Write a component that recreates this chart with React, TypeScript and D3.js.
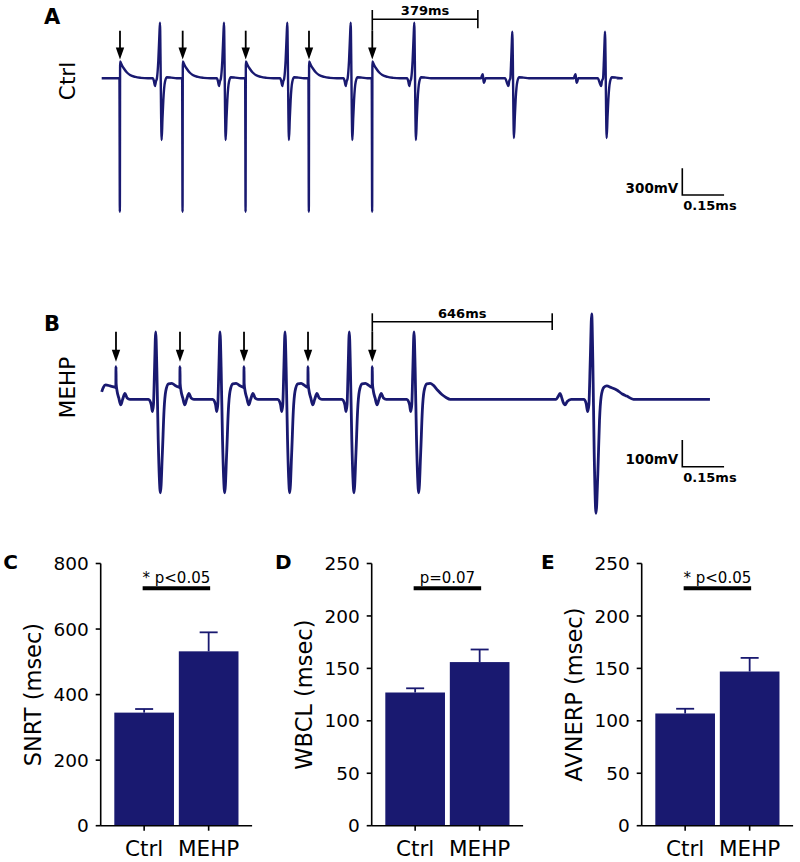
import React from 'react';
import * as d3 from 'd3';

const W = 800;
const H = 862;
const NAVY = '#191970';
const FONT = '"DejaVu Sans", sans-serif';

// ---------- Panel A / B: ECG traces (time in ms, voltage in mV) ----------
// event times
const ctrlStimTimes = [65.7, 290.8, 517.1, 744.3, 971.6];
const ctrlBeatTimes = [209.3, 439.1, 666.4, 894.1, 1122.4];
const ctrlLateBeatTimes = [1474.3, 1807.2];
const ctrlPWaveTimes = [1370.2, 1703.4];
const ctrlStart = [[0, 0]];
const ctrlEndTime = 1849;

const mehpStimTimes = [51.3, 281.1, 511.0, 740.8, 971.6];
const mehpBeatTimes = [193.9, 424.8, 658.2, 889.0, 1121.4];
const mehpLateBeatTimes = [1759.4];
const mehpPWaveTimes = [1645.6];
const mehpStart = [[0, 28], [6, 45], [14, 54], [30, 50]];
const mehpEndTime = 2184;

// waveform shapes: [ms offset, mV]
const ctrlStimShape = [[-2, 0], [-0.5, -1500], [0.5, 190], [3, 175], [8, 140], [14, 110], [25, 65], [36, 37], [55, 15], [75, 5], [100, 0]];
const ctrlBeatShape = [[-26, 0], [-21, -40], [-18, -87], [-15, -40], [-11, 0], [-6, 200], [-2, 500], [0, 625], [2, 200], [4, -400], [6, -693], [9, -450], [12, -245], [18, -38], [25, 12], [40, 8], [60, 0]];
const ctrlLateBeatShape = [[-26, 0], [-18, -60], [-14, -87], [-11, -30], [-7, 0], [-4, 200], [-1.5, 420], [0, 524], [2, 200], [4, -380], [6, -670], [9, -440], [12, -240], [18, -38], [25, 12], [40, 8], [60, 0]];
const ctrlPWaveShape = [[-8, 0], [-5, 30], [-2, 45], [0, -10], [2, -50], [5, -30], [8, 0]];

const mehpStimShape = [[-3, 45], [-0.6, 44], [0, 122], [0.6, 60], [4, 30], [10, 5], [17, -21], [24, 0], [32, 22], [40, 5], [50, 0]];
const mehpBeatShape = [[-26, 0], [-16, -20], [-12, -46], [-8, -20], [-4, 120], [0, 252], [4, 120], [9, -150], [17, -350], [24, -200], [30, -40], [36, 30], [46, 58], [58, 60], [70, 52], [85, 34], [100, 18], [115, 7], [130, 0]];
const mehpLateBeatShape = [[-28, 0], [-20, -15], [-14.5, -46], [-10, -20], [-5, 150], [0, 320], [4, 150], [9, -200], [15.5, -427], [22, -280], [28, -80], [34, 10], [44, 45], [54, 50], [70, 44], [90, 35], [110, 20], [126, 12], [150, 0]];
const mehpPWaveShape = [[-14, 0], [-7, 10], [0, 22], [5, 10], [11, -10], [18, -21], [26, -8], [40, 0]];

const ctrlPauseMs = 379;
const mehpPauseMs = 646;
const scaleBarMs = 150;
const ctrlScaleMv = 300;
const mehpScaleMv = 100;

// ---------- Panels C, D, E: bar charts ----------
const groups = ['Ctrl', 'MEHP'];
const snrtMean = [345, 532];
const snrtErr = [11, 58];
const wbclMean = [127, 156];
const wbclErr = [4, 12];
const avnerpMean = [107, 147];
const avnerpErr = [4.5, 13];
const ticks800 = [0, 200, 400, 600, 800];
const ticks250 = [0, 50, 100, 150, 200, 250];

type Ev = { t: number; shape: number[][] };

function buildTrace(start: number[][], events: Ev[], endT: number): [number, number][] {
  const evs = events.slice().sort((a, b) => a.t - b.t);
  const pts: [number, number][] = start.map((p) => [p[0], p[1]] as [number, number]);
  evs.forEach((e, i) => {
    const nextStart = i < evs.length - 1 ? evs[i + 1].t + evs[i + 1].shape[0][0] : Infinity;
    e.shape.forEach(([dt, v]) => {
      const t = e.t + dt;
      const last = pts.length ? pts[pts.length - 1][0] : -Infinity;
      if (t < nextStart && t > last) pts.push([t, v]);
    });
  });
  pts.push([endT, 0]);
  return pts;
}

const xT = d3.scaleLinear().domain([0, 2200]).range([101.7, 101.7 + 2200 * 0.2785]);
const yA = d3.scaleLinear().domain([0, 300]).range([78.3, 78.3 - 26.7]);
const yB = d3.scaleLinear().domain([0, 100]).range([399.3, 399.3 - 26.7]);

const ctrlTrace = buildTrace(
  ctrlStart,
  [
    ...ctrlStimTimes.map((t) => ({ t, shape: ctrlStimShape })),
    ...ctrlBeatTimes.map((t) => ({ t, shape: ctrlBeatShape })),
    ...ctrlLateBeatTimes.map((t) => ({ t, shape: ctrlLateBeatShape })),
    ...ctrlPWaveTimes.map((t) => ({ t, shape: ctrlPWaveShape })),
  ],
  ctrlEndTime
);
const mehpTrace = buildTrace(
  mehpStart,
  [
    ...mehpStimTimes.map((t) => ({ t, shape: mehpStimShape })),
    ...mehpBeatTimes.map((t) => ({ t, shape: mehpBeatShape })),
    ...mehpLateBeatTimes.map((t) => ({ t, shape: mehpLateBeatShape })),
    ...mehpPWaveTimes.map((t) => ({ t, shape: mehpPWaveShape })),
  ],
  mehpEndTime
);

function Arrow({ x, y1, y2 }: { x: number; y1: number; y2: number }) {
  return (
    <g>
      <line x1={x} x2={x} y1={y1} y2={y2 - 10} stroke="#000" strokeWidth={1.8} />
      <path d={`M${x - 4.2},${y2 - 12} L${x + 4.2},${y2 - 12} L${x},${y2} Z`} fill="#000" />
    </g>
  );
}

function TracePanel(props: {
  letter: string; letterY: number; name: string; nameY: number;
  data: [number, number][]; y: d3.ScaleLinear<number, number>; strokeW: number;
  stims: number[]; arrowTop: number; arrowTip: number;
  pause: number; brTop: number; brMid: number; brBot: number; brTextY: number;
  scaleMv: number; sbBottom: number; sbTextY: number; sbMsY: number;
}) {
  const p = props;
  const line = d3.line<[number, number]>().x((d) => xT(d[0])).y((d) => p.y(d[1])).curve(d3.curveMonotoneX);
  const lastStim = p.stims[p.stims.length - 1];
  const bx1 = xT(lastStim);
  const bx2 = xT(lastStim + p.pause);
  const sbX = 682.3;
  const sbH = p.y(0) - p.y(p.scaleMv);
  const sbW = xT(scaleBarMs) - xT(0);
  return (
    <g>
      <text x={44} y={p.letterY} fontFamily={FONT} fontWeight="bold" fontSize={21}>{p.letter}</text>
      <text transform={`translate(67,${p.nameY}) rotate(-90)`} textAnchor="middle" dy="0.35em" fontFamily={FONT} fontSize={21.5}>{p.name}</text>
      <path d={line(p.data) || ''} fill="none" stroke={NAVY} strokeWidth={p.strokeW} strokeLinejoin="round" />
      {p.stims.map((t, i) => (
        <Arrow key={i} x={xT(t)} y1={p.arrowTop} y2={p.arrowTip} />
      ))}
      <g stroke="#000" strokeWidth={1.6}>
        <line x1={bx1} x2={bx1} y1={p.brTop} y2={p.arrowTop} />
        <line x1={bx1} x2={bx2} y1={p.brMid} y2={p.brMid} />
        <line x1={bx2} x2={bx2} y1={p.brTop} y2={p.brBot} />
      </g>
      <text x={(bx1 + bx2) / 2} y={p.brTextY} textAnchor="middle" fontFamily={FONT} fontWeight="bold" fontSize={13}>{`${p.pause}ms`}</text>
      <g stroke="#000" strokeWidth={1.6} fill="none">
        <path d={`M${sbX},${p.sbBottom - sbH} L${sbX},${p.sbBottom} L${sbX + sbW},${p.sbBottom}`} />
      </g>
      <text x={sbX - 4} y={p.sbTextY} textAnchor="end" fontFamily={FONT} fontWeight="bold" fontSize={13.5}>{`${p.scaleMv}mV`}</text>
      <text x={sbX + 1} y={p.sbMsY} fontFamily={FONT} fontWeight="bold" fontSize={13}>{`${scaleBarMs / 1000}ms`}</text>
    </g>
  );
}

function BarPanel(props: {
  x0: number; letter: string; letterX: number; label: string;
  means: number[]; errs: number[]; yMax: number; ticks: number[]; sig: string;
}) {
  const p = props;
  const yTop = 563.5;
  const yBot = 825.7;
  const x = d3.scaleBand<string>().domain(groups).range([p.x0, p.x0 + 151.4]).paddingInner(0.075).paddingOuter(0.211);
  const y = d3.scaleLinear().domain([0, p.yMax]).range([yBot, yTop]);
  const bw = x.bandwidth();
  const c0 = (x(groups[0]) as number) + bw / 2;
  const c1 = (x(groups[1]) as number) + bw / 2;
  return (
    <g fontFamily={FONT}>
      <text x={p.letterX} y={569} fontWeight="bold" fontSize={20}>{p.letter}</text>
      {groups.map((g, i) => {
        const bx = x(g) as number;
        const cx = bx + bw / 2;
        return (
          <g key={g}>
            <rect x={bx} y={y(p.means[i])} width={bw} height={yBot - y(p.means[i])} fill={NAVY} />
            <line x1={cx} x2={cx} y1={y(p.means[i])} y2={y(p.means[i] + p.errs[i])} stroke={NAVY} strokeWidth={1.8} />
            <line x1={cx - 9} x2={cx + 9} y1={y(p.means[i] + p.errs[i])} y2={y(p.means[i] + p.errs[i])} stroke={NAVY} strokeWidth={1.8} />
          </g>
        );
      })}
      <line x1={p.x0} x2={p.x0} y1={yTop} y2={yBot} stroke="#000" strokeWidth={1.6} />
      <line x1={p.x0} x2={p.x0 + 151.4} y1={yBot} y2={yBot} stroke="#000" strokeWidth={1.6} />
      {p.ticks.map((t) => (
        <g key={t}>
          <line x1={p.x0 - 5} x2={p.x0} y1={y(t)} y2={y(t)} stroke="#000" strokeWidth={1.6} />
          <text x={p.x0 - 12} y={y(t)} dy="0.36em" textAnchor="end" fontSize={18.5}>{t}</text>
        </g>
      ))}
      {groups.map((g) => {
        const cx = (x(g) as number) + bw / 2;
        return (
          <g key={g}>
            <line x1={cx} x2={cx} y1={yBot} y2={yBot + 5} stroke="#000" strokeWidth={1.6} />
            <text x={cx} y={856} textAnchor="middle" fontSize={21.5}>{g}</text>
          </g>
        );
      })}
      <text transform={`translate(${p.x0 - 68},${(yTop + yBot) / 2}) rotate(-90)`} textAnchor="middle" dy="0.35em" fontSize={22.5}>{p.label}</text>
      <line x1={c0 - 1.5} x2={c1 + 1.5} y1={588.3} y2={588.3} stroke="#000" strokeWidth={4} />
      <text x={(c0 + c1) / 2} y={583} textAnchor="middle" fontSize={15}>{p.sig}</text>
    </g>
  );
}

export default function App() {
  return (
    <svg width={W} height={H} viewBox={`0 0 ${W} ${H}`} style={{ position: 'absolute', left: 0, top: 0, display: 'block', background: '#fff' }}>
      <rect x={0} y={0} width={W} height={H} fill="#fff" />
      <TracePanel
        letter="A" letterY={24} name="Ctrl" nameY={81}
        data={ctrlTrace} y={yA} strokeW={2.4}
        stims={ctrlStimTimes} arrowTop={30.7} arrowTip={59.5}
        pause={ctrlPauseMs} brTop={10} brMid={19.3} brBot={28.3} brTextY={15}
        scaleMv={ctrlScaleMv} sbBottom={195} sbTextY={193.3} sbMsY={210}
      />
      <TracePanel
        letter="B" letterY={330.7} name="MEHP" nameY={387.5}
        data={mehpTrace} y={yB} strokeW={2.8}
        stims={mehpStimTimes} arrowTop={331.7} arrowTip={361.7}
        pause={mehpPauseMs} brTop={313.3} brMid={321.7} brBot={330} brTextY={318.3}
        scaleMv={mehpScaleMv} sbBottom={466.7} sbTextY={464} sbMsY={481.7}
      />
      <BarPanel x0={100.7} letter="C" letterX={3.3} label="SNRT (msec)" means={snrtMean} errs={snrtErr} yMax={800} ticks={ticks800} sig="* p<0.05" />
      <BarPanel x0={371.7} letter="D" letterX={275} label="WBCL (msec)" means={wbclMean} errs={wbclErr} yMax={250} ticks={ticks250} sig="p=0.07" />
      <BarPanel x0={641.7} letter="E" letterX={541} label="AVNERP (msec)" means={avnerpMean} errs={avnerpErr} yMax={250} ticks={ticks250} sig="* p<0.05" />
    </svg>
  );
}
